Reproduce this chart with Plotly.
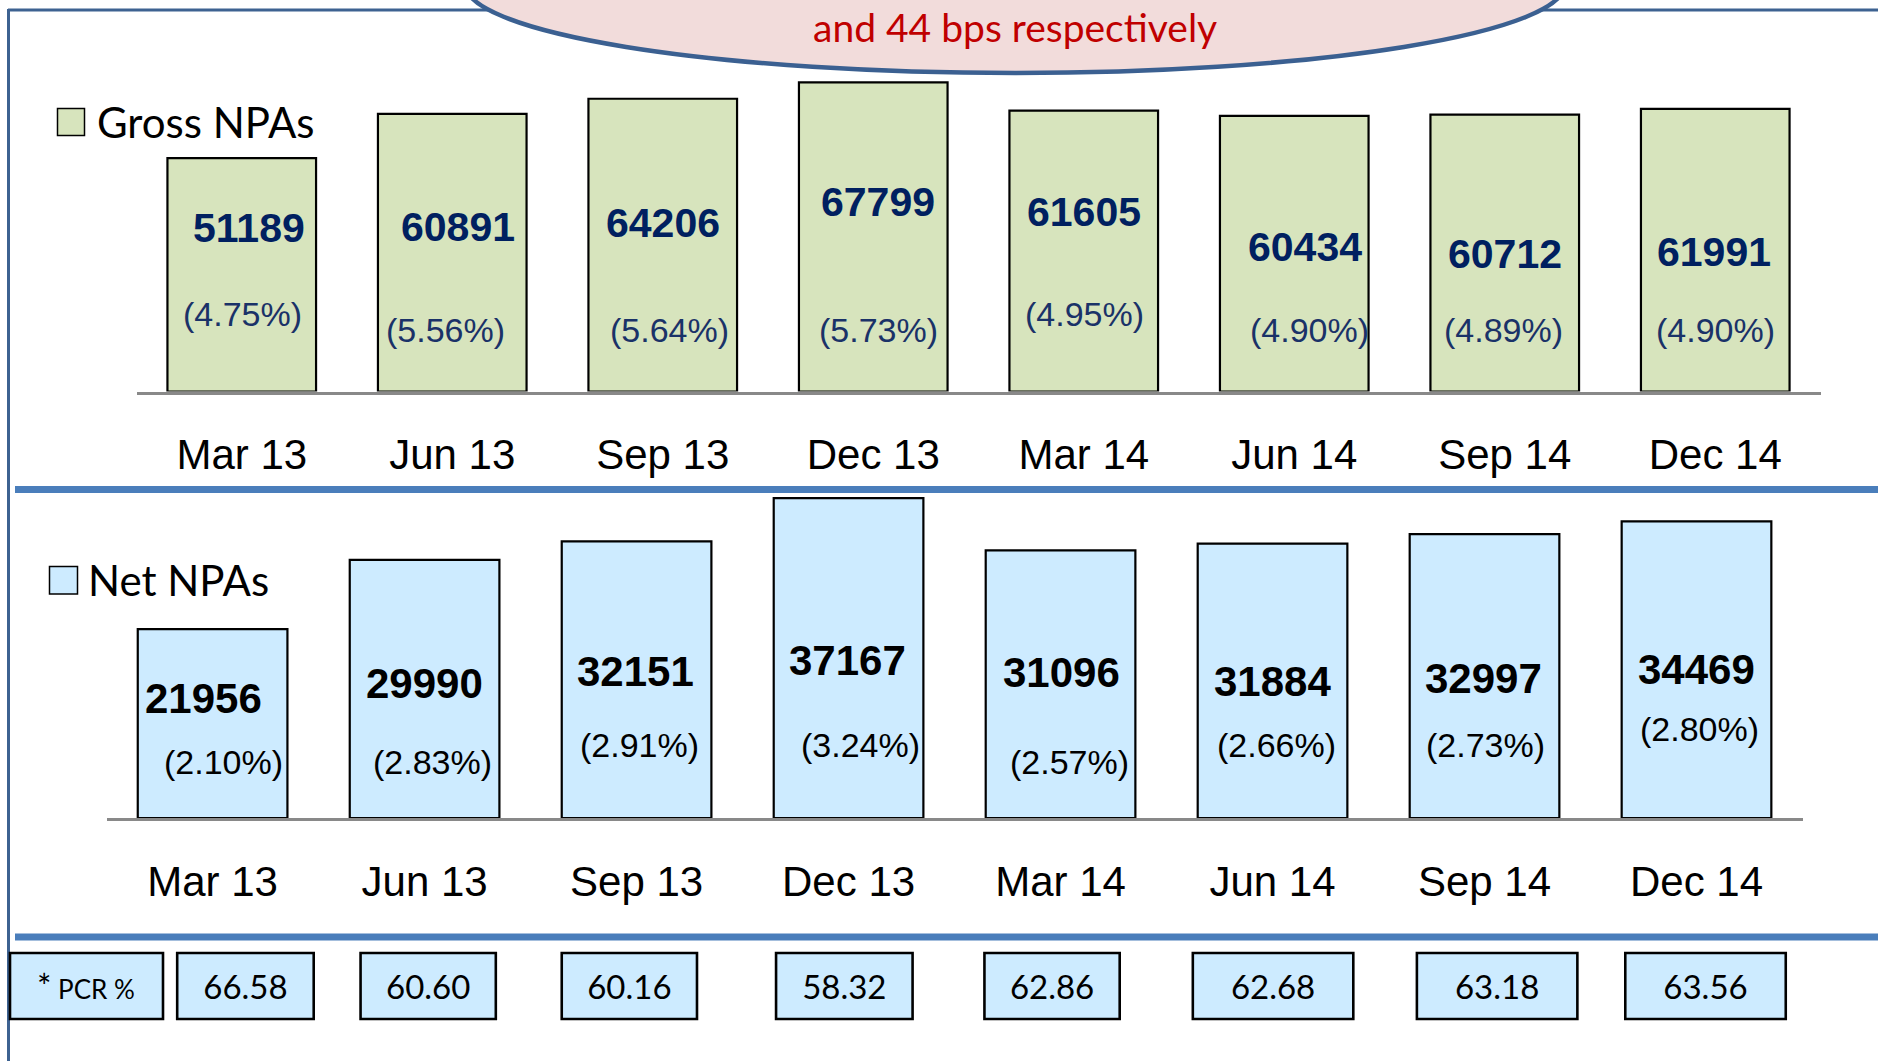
import plotly.graph_objects as go

# ---------------- data ----------------
periods = ["Mar 13", "Jun 13", "Sep 13", "Dec 13", "Mar 14", "Jun 14", "Sep 14", "Dec 14"]
gross_npa = [51189, 60891, 64206, 67799, 61605, 60434, 60712, 61991]
gross_pct = [4.75, 5.56, 5.64, 5.73, 4.95, 4.90, 4.89, 4.90]
net_npa = [21956, 29990, 32151, 37167, 31096, 31884, 32997, 34469]
net_pct = [2.10, 2.83, 2.91, 3.24, 2.57, 2.66, 2.73, 2.80]
pcr = [66.58, 60.60, 60.16, 58.32, 62.86, 62.68, 63.18, 63.56]
gross_title = "Gross NPAs"
net_title = "Net NPAs"
pcr_title = "PCR %"
callout_text = "and 44 bps respectively"

# ---------------- style (label placement offsets in px) ----------------
g_num_dx = [7, 6, 0, 5, 0, 11, 0, -1]
g_num_dy = [164, 165, 169, 190, 180, 145, 138, 140]
g_pct_dx = [1, -7, 7, 5, 1, 15, -1, 0]
g_pct_dy = [78, 62, 62, 62, 78, 62, 62, 62]
n_num_dx = [-9, 0, -1, -1, 1, 0, -1, 0]
n_num_dy = [120, 135, 147, 158, 146, 137, 140, 149]
n_pct_dx = [11, 8, 3, 12, 9, 4, 1, 3]
n_pct_dy = [56, 56, 73, 73, 56, 73, 73, 89]
pcr_offset = [-0.167, -0.302, -0.353, -0.342, -0.359, -0.376, -0.319, -0.336]
pcr_width = [0.644, 0.638, 0.638, 0.644, 0.638, 0.757, 0.757, 0.757]

W, H = 1878, 1061
def px(x):
    return x / W
def py(y):
    return 1 - y / H

GREEN = "#d7e4bd"
BLUE = "#cdebff"
NAVY = "#002060"
ARIAL = "Liberation Sans"
CAL = "Lato"

fig = go.Figure()

fig.add_trace(go.Bar(
    x=periods, y=gross_npa, xaxis="x", yaxis="y", width=0.706,
    marker=dict(color=GREEN, line=dict(color="black", width=2.2)),
    hoverinfo="skip", showlegend=False, name=gross_title))

fig.add_trace(go.Bar(
    x=periods, y=net_npa, xaxis="x2", yaxis="y2", width=0.706,
    marker=dict(color=BLUE, line=dict(color="black", width=2.2)),
    hoverinfo="skip", showlegend=False, name=net_title))

fig.add_trace(go.Bar(
    x=periods, y=[1] * len(pcr), base=0, xaxis="x3", yaxis="y3",
    width=pcr_width, offset=pcr_offset,
    marker=dict(color=BLUE, line=dict(color="black", width=2.6)),
    text=[f"{v:.2f}" for v in pcr], textposition="inside",
    insidetextanchor="middle", textangle=0, constraintext="none",
    textfont=dict(family=CAL, size=33, color="black"),
    hoverinfo="skip", showlegend=False, name=pcr_title))

axis_common = dict(
    type="category", range=[-0.5, 7.5], showgrid=False, zeroline=False,
    showline=True, linecolor="#898989", linewidth=2.5,
    ticks="outside", tickcolor="rgba(0,0,0,0)",
    tickfont=dict(family=ARIAL, size=42, color="black"), fixedrange=True)

annotations = []
for i, p in enumerate(periods):
    annotations.append(dict(
        x=p, y=0, xref="x", yref="y", text=f"{gross_npa[i]}", showarrow=False,
        xshift=g_num_dx[i], yshift=g_num_dy[i], yanchor="middle",
        font=dict(family=ARIAL, size=41, color=NAVY, weight="bold")))
    annotations.append(dict(
        x=p, y=0, xref="x", yref="y", text=f"({gross_pct[i]:.2f}%)", showarrow=False,
        xshift=g_pct_dx[i], yshift=g_pct_dy[i], yanchor="middle",
        font=dict(family=ARIAL, size=34, color="#1a3268")))
    annotations.append(dict(
        x=p, y=0, xref="x2", yref="y2", text=f"{net_npa[i]}", showarrow=False,
        xshift=n_num_dx[i], yshift=n_num_dy[i], yanchor="middle",
        font=dict(family=ARIAL, size=42, color="black", weight="bold")))
    annotations.append(dict(
        x=p, y=0, xref="x2", yref="y2", text=f"({net_pct[i]:.2f}%)", showarrow=False,
        xshift=n_pct_dx[i], yshift=n_pct_dy[i], yanchor="middle",
        font=dict(family=ARIAL, size=34, color="black")))

# legends / labels
annotations += [
    dict(x=px(95), y=py(122), xref="paper", yref="paper", text=gross_title,
         showarrow=False, xanchor="left", yanchor="middle",
         font=dict(family=CAL, size=42, color="black")),
    dict(x=px(86), y=py(580), xref="paper", yref="paper", text=net_title,
         showarrow=False, xanchor="left", yanchor="middle",
         font=dict(family=CAL, size=42, color="black")),
    dict(x=px(86), y=py(985), xref="paper", yref="paper",
         text="<span style='font-size:34px'>*</span> " + pcr_title,
         showarrow=False, xanchor="center", yanchor="middle",
         font=dict(family=CAL, size=26, color="black")),
    dict(x=px(1015), y=py(27), xref="paper", yref="paper", text=callout_text,
         showarrow=False, xanchor="center", yanchor="middle",
         font=dict(family=CAL, size=39, color="#c00000")),
]

FRAME = "#3d6291"
SEP = "#4a7ebb"
shapes = [
    # frame
    dict(type="line", xref="paper", yref="paper", x0=px(8), x1=1, y0=py(10), y1=py(10),
         line=dict(color=FRAME, width=3)),
    dict(type="line", xref="paper", yref="paper", x0=px(8.5), x1=px(8.5), y0=py(9), y1=0,
         line=dict(color=FRAME, width=3)),
    # callout ellipse
    dict(type="circle", xref="paper", yref="paper", x0=px(465), x1=px(1565),
         y0=py(-105), y1=py(73), fillcolor="#f2dcdb", line=dict(color="#3b6091", width=4.5)),
    # separators
    dict(type="line", xref="paper", yref="paper", x0=px(15), x1=1, y0=py(489.5), y1=py(489.5),
         line=dict(color=SEP, width=7)),
    dict(type="line", xref="paper", yref="paper", x0=px(15), x1=1, y0=py(937), y1=py(937),
         line=dict(color=SEP, width=7)),
    # legend swatches
    dict(type="rect", xref="paper", yref="paper", x0=px(57.5), x1=px(84.5),
         y0=py(135.5), y1=py(108.5), fillcolor=GREEN, line=dict(color="black", width=1.5)),
    dict(type="rect", xref="paper", yref="paper", x0=px(49.5), x1=px(77.5),
         y0=py(594), y1=py(566.5), fillcolor=BLUE, line=dict(color="black", width=1.5)),
    # PCR label box
    dict(type="rect", xref="paper", yref="paper", x0=px(10), x1=px(163),
         y0=py(1019), y1=py(953), fillcolor=BLUE, line=dict(color="black", width=2.6)),
]

fig.update_layout(
    width=W, height=H, margin=dict(l=0, r=0, t=0, b=0),
    paper_bgcolor="white", plot_bgcolor="rgba(0,0,0,0)",
    barmode="overlay", showlegend=False,
    xaxis=dict(axis_common, domain=[px(136.5), px(1820.5)], anchor="y", ticklen=24),
    yaxis=dict(domain=[py(391.6), py(72.3)], range=[0, 70000], visible=False, fixedrange=True),
    xaxis2=dict(axis_common, domain=[px(106.6), px(1802.5)], anchor="y2", ticklen=25),
    yaxis2=dict(domain=[py(818), py(473.8)], range=[0, 40000], visible=False, fixedrange=True),
    xaxis3=dict(type="category", range=[-0.5, 7.5], domain=[px(106.6), px(1802.5)],
                anchor="y3", visible=False, fixedrange=True),
    yaxis3=dict(domain=[py(1025.6), py(946.4)], range=[-0.1, 1.1], visible=False, fixedrange=True),
    annotations=annotations, shapes=shapes,
)

fig.write_html(
    "out.html",
    config={"displayModeBar": False},
    post_script="document.body.style.margin='0';document.body.style.overflow='hidden';",
)
